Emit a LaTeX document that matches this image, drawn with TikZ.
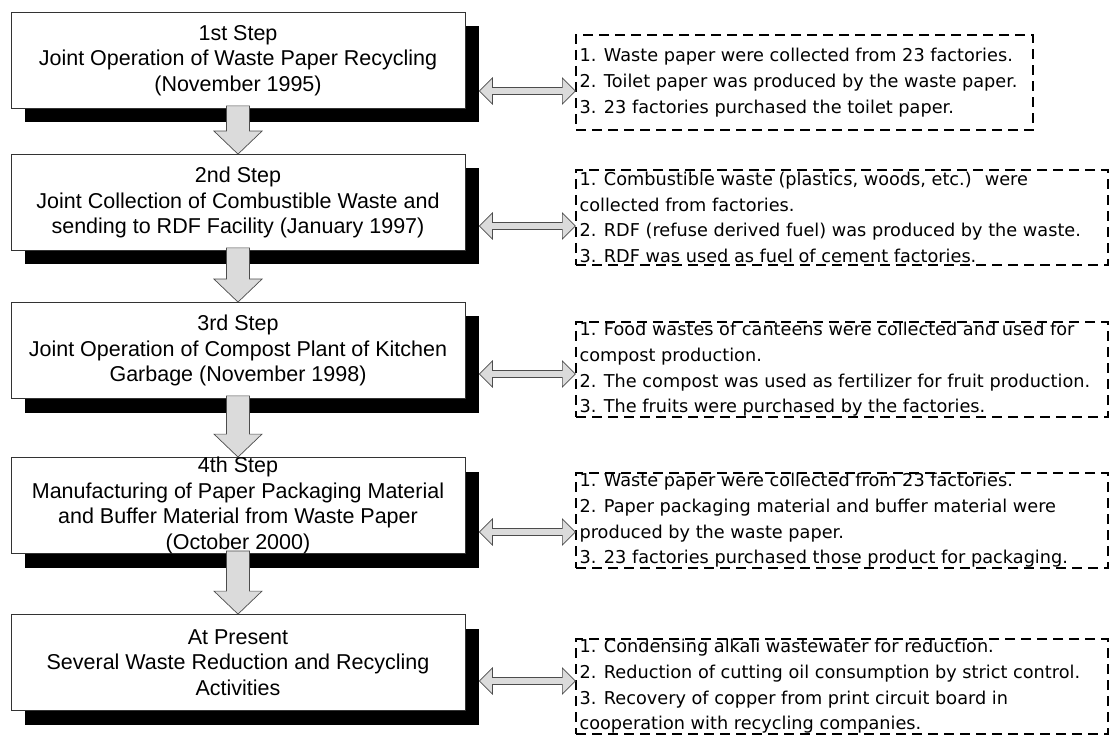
\documentclass[tikz,border=0pt]{standalone}
\usepackage{fontspec}
\setmainfont{Liberation Sans}
\newfontfamily\notefont{DejaVu Sans}
\usetikzlibrary{calc,shadows}

% block arrow pointing down, from the top of the shaft (#1) to the tip (#2)
\newcommand\blockdown[2]{%
  \draw[blockarrow] ($(#1)+(-11.5,0)$) -- ($(#1)+(11.5,0)$) -- ($(#2)+(11.5,-23)$)
    -- ($(#2)+(24,-23)$) -- (#2) -- ($(#2)+(-24,-23)$) -- ($(#2)+(-11.5,-23)$) -- cycle;}
% horizontal block arrow with a head at both ends, from (#1) to (#2)
\newcommand\blockboth[2]{%
  \draw[blockarrow] (#1) -- ($(#1)+(13,-13)$) -- ($(#1)+(13,-3.5)$) -- ($(#2)+(-13,-3.5)$)
    -- ($(#2)+(-13,-13)$) -- (#2) -- ($(#2)+(-13,13)$) -- ($(#2)+(-13,3.5)$)
    -- ($(#1)+(13,3.5)$) -- ($(#1)+(13,13)$) -- cycle;}

\begin{document}
\begin{tikzpicture}[x=1pt,y=-1pt,
  stepbox/.style={draw=black!80, line width=0.8pt, fill=white,
    minimum width=454pt, minimum height=96pt, inner sep=0pt,
    drop shadow={shadow xshift=14pt, shadow yshift=-14pt, fill=black, opacity=1}},
  steptext/.style={align=center, inner sep=0pt, font=\fontsize{21.5}{25.5}\selectfont},
  notebox/.style={draw=black, line width=1.3pt, dash pattern=on 10pt off 6pt,
    minimum height=95pt, inner sep=0pt},
  notetext/.style={align=left, inner sep=0pt, anchor=west,
    font=\notefont\fontsize{17.7}{25.7}\selectfont},
  blockarrow/.style={fill=black!14, draw=black!70, line width=0.7pt, line join=miter}
]
\useasboundingbox (0,0) rectangle (1109,735);

% the five steps
\node[stepbox] (b1) at (238,60.5) {};
\node[stepbox] (b2) at (238,202.5) {};
\node[stepbox] (b3) at (238,350.5) {};
\node[stepbox] (b4) at (238,505.5) {};
\node[stepbox] (b5) at (238,662.5) {};

\node[steptext] (t1) at (b1) {1st Step\\Joint Operation of Waste Paper Recycling\\(November 1995)};
\node[steptext] (t2) at (b2) {2nd Step\\Joint Collection of Combustible Waste and\\sending to RDF Facility (January 1997)};
\node[steptext] (t3) at (b3) {3rd Step\\Joint Operation of Compost Plant of Kitchen\\Garbage (November 1998)};
\node[steptext] (t4) at (b4) {4th Step\\Manufacturing of Paper Packaging Material\\and Buffer Material from Waste Paper\\(October 2000)};
\node[steptext] (t5) at (b5) {At Present\\Several Waste Reduction and Recycling\\Activities};

% dashed notes
\node[notebox, minimum width=457pt] (d1) at (804.5,82.5) {};
\node[notebox, minimum width=532pt] (d2) at (842,217.5) {};
\node[notebox, minimum width=532pt] (d3) at (842,369.5) {};
\node[notebox, minimum width=532pt] (d4) at (842,520.5) {};
\node[notebox, minimum width=532pt] (d5) at (842,686.5) {};

\node[notetext] (n1) at ($(d1.west)+(4,0)$) {1. Waste paper were collected from 23 factories.\\2. Toilet paper was produced by the waste paper.\\3. 23 factories purchased the toilet paper.};
\node[notetext] (n2) at ($(d2.west)+(4,0)$) {1. Combustible waste (plastics, woods, etc.)~ were\\collected from factories.\\2. RDF (refuse derived fuel) was produced by the waste.\\3. RDF was used as fuel of cement factories.};
\node[notetext] (n3) at ($(d3.west)+(4,0)$) {1. Food wastes of canteens were collected and used for\\compost production.\\2. The compost was used as fertilizer for fruit production.\\3. The fruits were purchased by the factories.};
\node[notetext] (n4) at ($(d4.west)+(4,0)$) {1. Waste paper were collected from 23 factories.\\2. Paper packaging material and buffer material were\\produced by the waste paper.\\3. 23 factories purchased those product for packaging.};
\node[notetext] (n5) at ($(d5.west)+(4,0)$) {1. Condensing alkali wastewater for reduction.\\2. Reduction of cutting oil consumption by strict control.\\3. Recovery of copper from print circuit board in\\cooperation with recycling companies.};

% arrows from step to step
\foreach \a/\b in {b1/b2, b2/b3, b3/b4, b4/b5} {
  \coordinate (top) at ($(\a.south)+(0,-3)$);
  \blockdown{top}{\b.north}
}

% arrows between each step and its note
\foreach \i/\dy in {1/8.5, 2/8.5, 3/4.5, 4/11.5, 5/-5.5} {
  \coordinate (e\i) at ($(d\i.west)+(0,\dy)$);
  \coordinate (s\i) at ($(b\i.east |- e\i)+(14,0)$);
  \blockboth{s\i}{e\i}
}
\end{tikzpicture}
\end{document}
